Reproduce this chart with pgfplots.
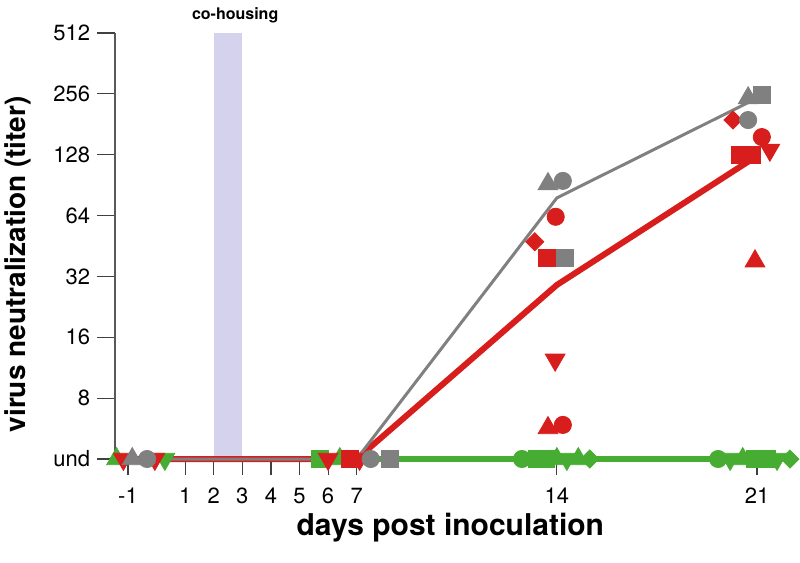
\documentclass[border=0pt]{standalone}
\usepackage{fontspec}
\setmainfont{TeX Gyre Heros}
\usepackage{pgfplots}
\pgfplotsset{compat=1.18}

\definecolor{grn}{RGB}{70,172,50}
\definecolor{rd}{RGB}{216,30,28}
\definecolor{gry}{RGB}{128,128,128}
\definecolor{band}{RGB}{212,210,236}

\pgfplotsset{
  base/.style={
    at={(0,0)}, anchor=south west,
    scale only axis, width=335.25pt, height=213pt,
    xmin=-1.45, xmax=22, ymin=2, ymax=9,
    clip=false,
    tick align=outside,
    /pgf/number format/assume math mode=true,
    tick label style={font=\fontsize{11}{13}\selectfont},
    tick style={black!75, line width=0.6pt},
  },
  circ/.style={only marks, mark=*, mark size=4.3pt},
  sq/.style={only marks, mark=square*, mark size=4.3pt},
  tu/.style={only marks, mark=triangle*, mark size=5.7pt},
  td/.style={only marks, mark=triangle*, mark size=5.7pt, mark options={rotate=180}},
  dm/.style={only marks, mark=square*, mark size=3.2pt, mark options={rotate=45}},
}

\begin{document}
\begin{tikzpicture}
\useasboundingbox (-57.55pt,-52pt) rectangle (342.45pt,229.5pt);

% y axis only
\begin{axis}[base,
  axis x line=none, axis y line*=left,
  y axis line style={black!65, line width=0.8pt},
  major tick length=9pt,
  ytick={2,...,9}, yticklabels={und,8,16,32,64,128,256,512},
  ylabel={virus neutralization (titer)},
  ylabel style={font=\bfseries\fontsize{14}{16}\selectfont,
    at={(axis description cs:-0.1447,0.457)}, anchor=center},
]
\end{axis}

% x axis and data
\begin{axis}[base,
  axis y line=none, axis x line*=bottom,
  x axis line style={draw=none},
  major tick length=8pt,
  xtick={-1,1,2,3,4,5,6,7,14,21},
  xticklabel style={yshift=-3pt},
  xlabel={days post inoculation},
  xlabel style={font=\bfseries\fontsize{15}{17}\selectfont,
    at={(axis description cs:0.5,-0.162)}, anchor=center},
]
\fill[band] (axis cs:2,2) rectangle (axis cs:3,9);
\node[font=\bfseries\fontsize{8}{9}\selectfont, anchor=base, yshift=6.75pt]
  at (axis cs:2.75,9) {co-housing};

% group means
\addplot[grn, line width=2.8pt] coordinates {(-1,2) (21,2)};
\addplot[rd, line width=3pt] coordinates {(-1,2) (7,2) (14,4.86) (21,6.98)};
\addplot[gry, line width=1.5pt] coordinates {(-1,2) (7,2) (14,6.29) (21,7.93)};

% green animals
\addplot[grn, circ] coordinates {(12.78,2) (19.64,2)};
\addplot[grn, sq] coordinates {(5.71,2) (13.3,2) (13.6,2) (20.93,2) (21.35,2)};
\addplot[grn, tu] coordinates {(-1.40,2) (6.41,2) (14.0,2) (14.75,2) (20.5,2)};
\addplot[grn, td] coordinates {(0.29,2) (14.35,2) (20.06,2) (21.7,2)};
\addplot[grn, dm] coordinates {(15.15,2) (22.15,2)};

% red animals
\addplot[rd, circ] coordinates {(13.96,5.98) (14.21,2.56) (21.17,7.29)};
\addplot[rd, sq] coordinates {(6.76,2) (13.66,5.30) (20.4,7.0) (20.82,7.0)};
\addplot[rd, tu] coordinates {(13.69,2.51) (20.93,5.25)};
\addplot[rd, td] coordinates {(-1.16,2) (-0.06,2) (6.0,2) (7.1,2) (13.94,3.63) (21.45,7.08)};
\addplot[rd, dm] coordinates {(13.23,5.57) (20.16,7.57)};

% grey animals
\addplot[gry, circ] coordinates {(-0.33,2) (7.49,2) (14.21,6.57) (20.69,7.57)};
\addplot[gry, sq] coordinates {(8.16,2) (14.28,5.30) (21.17,7.98)};
\addplot[gry, tu] coordinates {(-0.85,2) (13.69,6.52) (20.69,7.93)};
\end{axis}
\end{tikzpicture}
\end{document}
